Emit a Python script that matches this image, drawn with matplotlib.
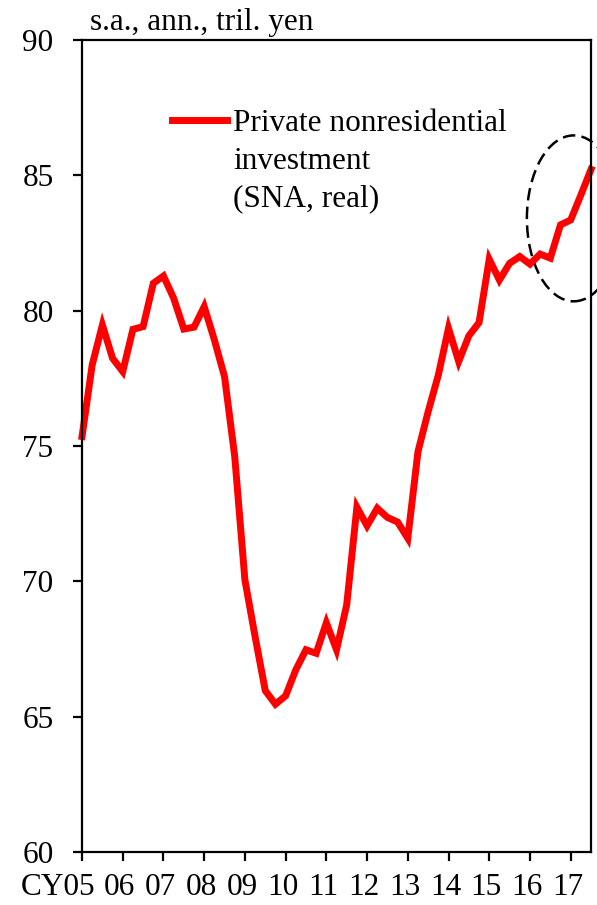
import matplotlib
matplotlib.use("Agg")
import matplotlib.pyplot as plt
import matplotlib.transforms as mtransforms
from matplotlib.patches import Ellipse
import numpy as np

#=========================================================================================
# Data: private nonresidential investment (SNA, real), quarterly, CY2005Q1 - CY2017Q3
#=========================================================================================
investment = [75.35, 78.00, 79.47, 78.24,   # 2005
              77.75, 79.31, 79.41, 81.01,   # 2006
              81.28, 80.46, 79.32, 79.39,   # 2007
              80.15, 78.92, 77.56, 74.61,   # 2008
              70.05, 67.96, 65.96, 65.46,   # 2009
              65.77, 66.73, 67.47, 67.34,   # 2010
              68.47, 67.47, 69.13, 72.74,   # 2011
              72.05, 72.70, 72.36, 72.19,   # 2012
              71.59, 74.79, 76.27, 77.62,   # 2013
              79.35, 78.12, 79.07, 79.56,   # 2014
              81.90, 81.13, 81.75, 82.00,   # 2015
              81.72, 82.09, 81.94, 83.17,   # 2016
              83.35, 84.27, 85.22]          # 2017
year_labels = ["CY05", "06", "07", "08", "09", "10", "11", "12", "13", "14", "15", "16", "17"]
y_ticks = [60, 65, 70, 75, 80, 85, 90]

plt.rcParams['font.family'] = ['Liberation Serif', 'DejaVu Serif']
FS = 22.5

fig = plt.figure(figsize=(5.97, 9.05), dpi=100)
ax = fig.add_axes([0.1374, 0.0586, 0.8526, 0.8972])

t = np.arange(len(investment))
ax.plot(t, investment, color="#ff0000", lw=5, solid_joinstyle="miter",
        label="Private nonresidential\ninvestment\n(SNA, real)", clip_on=False)

ax.set_xlim(0, 50)
ax.set_ylim(60, 90)
ax.set_yticks(y_ticks)
ax.set_xticks(np.arange(0, 49, 4))
ax.set_xticklabels(year_labels)

for sp in ax.spines.values():
    sp.set_linewidth(1.6)
ax.tick_params(axis="both", direction="out", length=6.5, width=1.6, labelsize=FS)
ax.tick_params(axis="y", pad=14)
ax.tick_params(axis="x", pad=9)

# shift first label so "05" sits under the tick
first = ax.get_xticklabels()[0]
first.set_ha("right")
first.set_transform(first.get_transform() + mtransforms.ScaledTranslation(0.13, 0, fig.dpi_scale_trans))
for lab in ax.get_xticklabels()[1:]:
    lab.set_transform(lab.get_transform() + mtransforms.ScaledTranslation(-0.03, 0, fig.dpi_scale_trans))

ax.text(0.015, 1.004, "s.a., ann., tril. yen", transform=ax.transAxes, fontsize=FS,
        ha="left", va="bottom")

leg = ax.legend(loc="upper left", bbox_to_anchor=(0.177, 0.915), frameon=False, fontsize=FS,
                handlelength=1.75, handletextpad=0.2, borderpad=0, borderaxespad=0)
leg.get_texts()[0].set_linespacing(1.4)
# put the handle next to the first line of the label
for col in leg._legend_handle_box.get_children():
    for item in col.get_children():
        item.align = "top"

# dashed circle round the latest quarters
ax.add_patch(Ellipse((48.3, 83.41), 9.2, 6.13, fill=False, ec="black", lw=1.8,
                     ls=(0, (5, 2.5)), clip_on=False))

plt.savefig("out.png", dpi=100)
